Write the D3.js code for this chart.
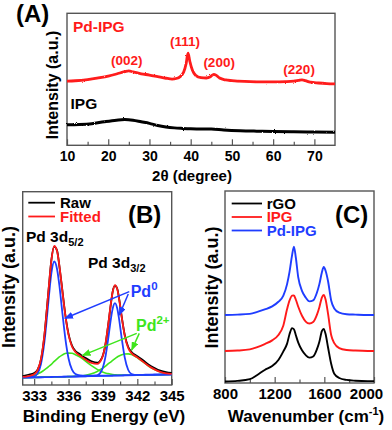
<!DOCTYPE html>
<html>
<head>
<meta charset="utf-8">
<title></title>
<script src="https://d3js.org/d3.v7.min.js"></script>
<style>
body {margin:0; background:#fff;}
svg {font-family:"Liberation Sans", Arial, sans-serif; font-weight:bold;}
</style>
</head>
<body>
<svg width="392" height="430"></svg>
<script>
// ---- (A) XRD ----
var pdIpgTheta = [10,12,15,18,20,22,24,25,26,28,30,32,34,35.5,36.5,37.5,38.3,38.9,39.35,39.8,40.4,41.2,42.5,43.8,44.8,45.6,46.2,47,48.5,50,53,56,60,63,65,66.2,67,67.8,69,71,73,75];
var pdIpgCounts = [48.6,48.9,49.8,51.2,52.4,54.0,55.8,56.4,55.6,54.2,53.2,52.0,50.8,50.2,50.6,52.2,55.5,62.0,69.8,63.5,57.0,53.0,51.2,51.0,52.0,53.8,53.0,51.0,49.5,49.0,48.4,48.1,48.0,48.2,48.6,49.2,49.6,49.0,47.8,47.2,46.8,46.6];
var ipgTheta = [10,13,16,19,22,24,26,28,30,32,34,36,38,40,42,45,48,52,56,60,65,70,75];
var ipgCounts = [15.6,15.8,16.4,17.8,19.0,19.5,19.0,17.8,16.6,15.0,13.9,13.2,12.8,12.5,12.4,12.3,11.6,11.0,10.7,10.5,10.2,10.0,9.8];
var xrdPeakLabels = ["(002)","(111)","(200)","(220)"];
var xrdPeakTheta = [24.5,38.6,46.9,66.3];
var xrdPeakLevel = [60.7,75.0,59.2,54.0];
var xrdTicks = [10,20,30,40,50,60,70];

// ---- (B) XPS Pd 3d ----
var xpsEnergy = [332.0,332.5,333.0,333.3,333.6,333.9,334.1,334.3,334.5,334.75,335.0,335.2,335.4,335.6,335.8,336.0,336.3,336.6,337.0,337.5,338.0,338.5,338.9,339.2,339.45,339.7,339.85,340.05,340.25,340.4,340.65,340.9,341.2,341.5,342.0,342.5,343.0,343.5,344.0,344.5,345.0];
var xpsRaw = [4.6,5.3,6.2,7.9,13.4,26.0,38.9,52.0,64.6,71.6,69.5,61.5,52.1,41.9,33.0,26.3,20.4,17.6,15.9,13.9,12.3,11.5,13.9,20.3,30.6,42.2,48.3,51.4,49.8,45.2,34.9,26.0,19.8,17.1,14.9,12.8,10.5,8.8,7.4,6.6,6.2];
var xpsFitted = [4.2,4.6,5.6,7.7,13.6,26.2,38.6,52.3,64.3,71.9,69.2,61.8,51.8,41.6,32.7,25.9,19.9,17.1,15.2,13.1,11.4,10.9,13.6,20.5,30.8,42.5,48.1,51.7,49.6,44.9,34.7,25.6,19.2,16.5,14.3,12.1,9.8,8.1,6.8,6.0,5.8];
var xpsPd0a = [4.0,4.2,4.5,6.0,11.0,22.5,34.0,46.7,57.7,63.9,59.9,51.5,40.7,29.9,20.6,13.7,7.9,5.7,4.95,4.8,4.8,4.8,4.8,4.84,4.87,4.9,4.92,4.95,4.97,4.99,5.02,5.06,5.1,5.14,5.2,5.27,5.33,5.35,5.4,5.45,5.5];
var xpsPd0b = [3.8,3.87,3.93,3.97,4.01,4.05,4.07,4.1,4.13,4.16,4.19,4.22,4.24,4.27,4.29,4.32,4.36,4.4,4.45,4.52,4.64,5.0,7.6,14.0,23.5,34.4,39.5,42.4,39.6,34.5,23.7,14.3,7.9,5.7,5.2,5.2,5.2,5.3,5.4,5.4,5.5];
var xpsPd2a = [4.0,4.3,5.0,5.7,6.6,7.8,8.7,9.7,10.7,12.2,13.5,14.5,15.3,16.0,16.4,16.5,16.4,15.7,14.5,12.2,10.0,8.1,6.9,6.2,5.9,5.6,5.4,5.3,5.2,5.1,5.1,5.05,5.05,5.07,5.1,5.17,5.23,5.3,5.36,5.43,5.49];
var xpsPd2b = [3.8,3.87,3.93,3.97,4.01,4.05,4.07,4.1,4.13,4.16,4.19,4.22,4.24,4.27,4.29,4.34,4.41,4.5,4.67,5.07,5.8,7.0,8.4,9.6,10.9,12.0,12.7,13.65,14.5,15.0,15.7,16.06,16.1,15.74,14.1,12.0,9.7,8.0,6.76,6.03,5.79];
var xpsBackground = [3.8,5.49];
var xpsBackgroundEnergy = [332,345];
var xpsTicks = [333,336,339,342,345];

// ---- (C) Raman ----
var ramanShift = [800,900,1000,1060,1120,1180,1230,1270,1300,1320,1340,1355,1370,1390,1420,1450,1480,1510,1540,1560,1580,1595,1610,1630,1655,1680,1720,1780,1850,1950,2000];
var ramanRGO = [0.8,1.1,2.0,4.2,6.8,8.8,12.0,16.5,20.5,25.5,28.6,28.0,25.0,21.0,17.0,14.5,13.2,13.8,17.5,21.5,27.0,28.2,25.5,18.5,10.0,4.8,2.6,1.6,1.2,1.0,1.0];
var ramanIPG = [16.7,16.9,17.5,18.7,20.3,22.2,25.0,30.0,38.5,43.0,45.5,45.6,43.5,39.7,35.0,32.0,31.0,31.8,35.5,39.5,44.5,45.8,43.5,36.0,25.0,20.8,18.2,17.2,16.9,16.7,16.7];
var ramanPdIPG = [35.4,35.6,36.0,37.0,38.3,39.9,42.3,45.5,51.5,58.0,66.5,71.0,65.5,55.0,48.0,44.5,42.5,43.0,47.0,51.5,57.5,60.5,58.5,53.0,43.0,38.8,36.6,35.8,35.6,35.4,35.4];
var ramanNames = ["rGO","IPG","Pd-IPG"];
var ramanTicks = [800,1200,1600,2000];

var RED = "#ff1a1a", BLUE = "#1f3dff", GREEN = "#3ee51c", FRAME = "#555";
var svg = d3.select("svg");
var zip = function(xs, ys) { return xs.map(function(x, i) { return [x, ys[i]]; }); };

var defs = svg.append("defs");
[["arrB", BLUE], ["arrG", GREEN]].forEach(function(m) {
  defs.append("marker").attr("id", m[0]).attr("markerUnits", "userSpaceOnUse")
    .attr("markerWidth", 9).attr("markerHeight", 7).attr("refX", 8).attr("refY", 3.5)
    .attr("orient", "auto")
   .append("path").attr("d", "M0,0 L9,3.5 L0,7 z").attr("fill", m[1]);
});
// rough look of the raw diffraction traces
var rough = defs.append("filter").attr("id", "rough").attr("x", "-2%").attr("y", "-20%").attr("width", "104%").attr("height", "140%");
rough.append("feTurbulence").attr("type", "fractalNoise").attr("baseFrequency", 0.9).attr("numOctaves", 1).attr("seed", 3).attr("result", "n");
rough.append("feDisplacementMap").attr("in", "SourceGraphic").attr("in2", "n").attr("scale", 2.2);

// draws frame + inward bottom ticks, returns group
function panel(x, y, major, minor, fontSize, pad) {
  var g = svg.append("g");
  var r = x.range(), b = y.range()[0], t = y.range()[1];
  g.append("g").attr("transform", "translate(0," + b + ")")
    .call(d3.axisBottom(x).tickValues(minor).tickSizeInner(-3.5).tickSizeOuter(0).tickFormat(""))
    .call(function(a) { a.select(".domain").remove(); a.selectAll("line").attr("stroke", FRAME).attr("stroke-width", 1.2); });
  g.append("g").attr("transform", "translate(0," + b + ")")
    .call(d3.axisBottom(x).tickValues(major).tickSizeInner(-6).tickSizeOuter(0).tickPadding(pad).tickFormat(d3.format("d")))
    .call(function(a) {
      a.select(".domain").remove();
      a.selectAll("line").attr("stroke", FRAME).attr("stroke-width", 1.2);
      a.selectAll("text").attr("fill", "#000").attr("font-size", fontSize)
        .attr("font-family", "Liberation Sans, Arial, sans-serif").attr("font-weight", "bold");
    });
  g.append("rect").attr("x", r[0]).attr("y", t).attr("width", r[1] - r[0]).attr("height", b - t)
    .attr("fill", "none").attr("stroke", FRAME).attr("stroke-width", 1.4);
  return g;
}

function curve(x, y, pts, color, w, filt) {
  var p = svg.append("path").datum(pts)
    .attr("d", d3.line().x(function(d) { return x(d[0]); }).y(function(d) { return y(d[1]); }).curve(d3.curveMonotoneX))
    .attr("fill", "none").attr("stroke", color).attr("stroke-width", w).attr("stroke-linejoin", "round");
  if (filt) p.attr("filter", "url(#" + filt + ")");
}

function label(txt, x, y, size, color, anchor) {
  return svg.append("text").attr("x", x).attr("y", y).attr("font-size", size)
    .attr("fill", color || "#000").attr("text-anchor", anchor || "start").text(txt);
}

function yTitle(txt, x, y, size) {
  svg.append("text").attr("transform", "translate(" + x + "," + y + ") rotate(-90)")
    .attr("text-anchor", "middle").attr("font-size", size).text(txt);
}

// ===== Panel A =====
var xA = d3.scaleLinear().domain([10, 75]).range([67, 335]);
var yA = d3.scaleLinear().domain([0, 100]).range([145.3, 13.3]);
panel(xA, yA, xrdTicks, d3.range(15, 75, 10), 14, 5.5);
curve(xA, yA, zip(ipgTheta, ipgCounts), "#000", 3, "rough");
curve(xA, yA, zip(pdIpgTheta, pdIpgCounts), RED, 2.8, "rough");
xrdPeakLabels.forEach(function(t, i) {
  label(t, xA(xrdPeakTheta[i]), yA(xrdPeakLevel[i]), 13.5, RED, "middle");
});
label("Pd-IPG", 73, 32, 15.5, RED);
label("IPG", 70.5, 109, 15.5, "#000");
label("(A)", 16, 21.5, 24);
label("2\u03b8 (degree)", 192, 181, 15, "#000", "middle");
yTitle("Intensity (a.u.)", 58.2, 85, 16);

// ===== Panel B =====
var xB = d3.scaleLinear().domain([332, 345]).range([22.7, 171.7]);
var yB = d3.scaleLinear().domain([0, 100]).range([385, 191.7]);
panel(xB, yB, xpsTicks, d3.range(334.5, 345, 3), 15, 5.5);
curve(xB, yB, zip(xpsBackgroundEnergy, xpsBackground), BLUE, 1.8);
curve(xB, yB, zip(xpsEnergy, xpsPd2a), GREEN, 1.6);
curve(xB, yB, zip(xpsEnergy, xpsPd2b), GREEN, 1.6);
curve(xB, yB, zip(xpsEnergy, xpsPd0a), BLUE, 1.8);
curve(xB, yB, zip(xpsEnergy, xpsPd0b), BLUE, 1.8);
curve(xB, yB, zip(xpsEnergy, xpsRaw), "#000", 1.8);
curve(xB, yB, zip(xpsEnergy, xpsFitted), RED, 1.8);

// legend B
svg.append("line").attr("x1", 28.3).attr("x2", 55).attr("y1", 202.7).attr("y2", 202.7).attr("stroke", "#000").attr("stroke-width", 1.8);
svg.append("line").attr("x1", 28.3).attr("x2", 55).attr("y1", 216.5).attr("y2", 216.5).attr("stroke", RED).attr("stroke-width", 1.8);
label("Raw", 60, 208.3, 15);
label("Fitted", 60, 222.3, 15, RED);
label("(B)", 128, 223, 24);

var t1 = label("Pd 3d", 26, 242, 15.5);
t1.append("tspan").attr("font-size", 11).attr("dy", 4).text("5/2");
var t2 = label("Pd 3d", 88, 267.7, 15.5);
t2.append("tspan").attr("font-size", 11).attr("dy", 4).text("3/2");
var t3 = label("Pd", 130.7, 296.7, 16, BLUE);
t3.append("tspan").attr("font-size", 11.5).attr("dy", -7).text("0");
var t4 = label("Pd", 136, 330.7, 16, GREEN);
t4.append("tspan").attr("font-size", 11.5).attr("dy", -7).text("2+");

// annotation arrows (data coordinates)
var arrowFrom = [[341.30, 48.3], [341.21, 47.1], [341.95, 26.7], [342.17, 26.7]];
var arrowTo = [[335.69, 34.5], [340.43, 36.2], [337.22, 15.3], [341.51, 18.1]];
var arrowColor = [BLUE, BLUE, GREEN, GREEN];
arrowFrom.forEach(function(a, i) {
  svg.append("line").attr("x1", xB(a[0])).attr("y1", yB(a[1]))
    .attr("x2", xB(arrowTo[i][0])).attr("y2", yB(arrowTo[i][1]))
    .attr("stroke", arrowColor[i]).attr("stroke-width", 1.5)
    .attr("marker-end", arrowColor[i] === BLUE ? "url(#arrB)" : "url(#arrG)");
});

label("Binding Energy (eV)", 104, 422, 17, "#000", "middle");
yTitle("Intensity (a.u.)", 14.6, 287, 18);

// ===== Panel C =====
var xC = d3.scaleLinear().domain([800, 2000]).range([225, 374]);
var yC = d3.scaleLinear().domain([0, 100]).range([383, 191]);
var gC = panel(xC, yC, ramanTicks, [1000, 1400, 1800], 15, 5);
// last tick label sits inside the page, as in the original
gC.selectAll(".tick text").filter(function(d) { return d === 2000; }).attr("dx", -8);
var ramanSeries = [ramanRGO, ramanIPG, ramanPdIPG];
var ramanColor = ["#000", RED, BLUE];
ramanSeries.forEach(function(s, i) { curve(xC, yC, zip(ramanShift, s), ramanColor[i], 1.9); });
ramanNames.forEach(function(n, i) {
  var ly = 203.5 + i * 13.5;
  svg.append("line").attr("x1", 231.7).attr("x2", 262).attr("y1", ly).attr("y2", ly)
    .attr("stroke", ramanColor[i]).attr("stroke-width", 1.8);
  label(n, 266.7, ly + 5.2, 15, ramanColor[i]);
});
label("(C)", 335, 222.5, 24);
var wl = label("Wavenumber (cm", 306, 421.5, 17, "#000", "middle");
wl.append("tspan").attr("font-size", 11).attr("dy", -7).text("-1");
wl.append("tspan").attr("dy", 7).text(")");
yTitle("Intensity (a.u.)", 217.9, 287.5, 18);
</script>
</body>
</html>
